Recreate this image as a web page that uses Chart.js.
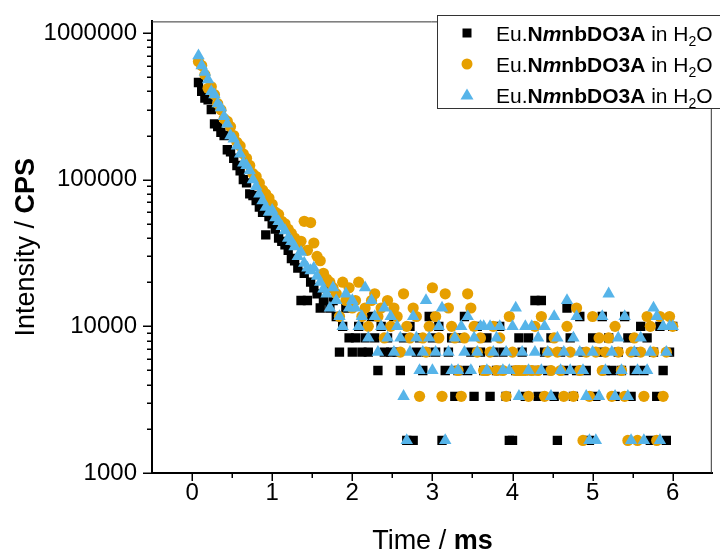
<!DOCTYPE html>
<html>
<head>
<meta charset="utf-8">
<script src="https://cdn.jsdelivr.net/npm/chart.js@4.4.0/dist/chart.umd.min.js"></script>
<style>
  html, body { margin: 0; padding: 0; background: #fff; }
  #wrap { width: 720px; height: 554px; }
</style>
</head>
<body>
<div id="wrap"><canvas id="chart" width="720" height="554"></canvas></div>
<script>
const FONT = "'Liberation Sans', Arial, Helvetica, sans-serif";

// time in ms
const times = [
  0.08, 0.12, 0.16, 0.20, 0.24, 0.28, 0.32, 0.36, 0.40, 0.44,
  0.48, 0.52, 0.56, 0.60, 0.64, 0.68, 0.72, 0.76, 0.80, 0.84,
  0.88, 0.92, 0.96, 1.00, 1.04, 1.08, 1.12, 1.16, 1.20, 1.24,
  1.28, 1.32, 1.36, 1.40, 1.44, 1.48, 1.52, 1.56, 1.60, 1.64,
  1.68, 1.72, 1.76, 1.80, 1.84, 1.88, 1.92, 1.96, 2.00, 2.04,
  2.08, 2.12, 2.16, 2.20, 2.24, 2.28, 2.32, 2.36, 2.40, 2.44,
  2.48, 2.52, 2.56, 2.60, 2.64, 2.68, 2.72, 2.76, 2.80, 2.84,
  2.88, 2.92, 2.96, 3.00, 3.04, 3.08, 3.12, 3.16, 3.20, 3.24,
  3.28, 3.32, 3.36, 3.40, 3.44, 3.48, 3.52, 3.56, 3.60, 3.64,
  3.68, 3.72, 3.76, 3.80, 3.84, 3.88, 3.92, 3.96, 4.00, 4.04,
  4.08, 4.12, 4.16, 4.20, 4.24, 4.28, 4.32, 4.36, 4.40, 4.44,
  4.48, 4.52, 4.56, 4.60, 4.64, 4.68, 4.72, 4.76, 4.80, 4.84,
  4.88, 4.92, 4.96, 5.00, 5.04, 5.08, 5.12, 5.16, 5.20, 5.24,
  5.28, 5.32, 5.36, 5.40, 5.44, 5.48, 5.52, 5.56, 5.60, 5.64,
  5.68, 5.72, 5.76, 5.80, 5.84, 5.88, 5.92, 5.96, 6.00
];

// intensity (CPS), black squares
const runSquares = [
  460000, 400000, 360000, 350000, 300000, 240000, 230000, 210000, 200000, 160000,
  155000, 140000, 125000, 115000, 100000, 95000, 80000, 78000, 72000, 65000,
  60000, 42000, 56000, 50000, 46000, 40000, 38000, 36000, 33000, 29000,
  28000, 25000, 15000, 23000, 15000, 20000, 18333, 16667, 13333, 15000,
  18333, 13333, 15000, 11667, 6667, 10000, 13333, 8333, 6667, 8333,
  10000, 6667, 8333, 6667, 11667, 8333, 5000, 10000, 6667, 8333,
  6667, 11667, 6667, 5000, 8333, 1667, 10000, 1667, 6667, 8333,
  5000, 6667, 11667, 8333, 6667, 10000, 1667, 5000, 6667, 8333,
  3333, 5000, 8333, 11667, 5000, 6667, 3333, 10000, 6667, 5000,
  8333, 3333, 6667, 5000, 10000, 6667, 3333, 1667, 1667, 5000,
  8333, 6667, 3333, 8333, 5000, 15000, 3333, 15000, 6667, 5000,
  8333, 3333, 1667, 6667, 5000, 13333, 8333, 3333, 5000, 11667,
  6667, 5000, 1667, 8333, 3333, 6667, 11667, 5000, 8333, 5000,
  3333, 6667, 5000, 11667, 8333, 3333, 5000, 6667, 10000, 5000,
  8333, 1667, 6667, 3333, 10000, 5000, 1667, 6667, 10000
];

// orange circles
const runCircles = [
  640000, 600000, 520000, 420000, 430000, 380000, 330000, 300000, 260000, 250000,
  230000, 200000, 180000, 170000, 150000, 140000, 125000, 110000, 105000, 95000,
  85000, 80000, 75000, 68000, 60000, 58000, 52000, 50000, 46000, 43000,
  40000, 36000, 38000, 52000, 33000, 51000, 37000, 30000, 28000, 23000,
  21000, 20000, 18333, 16667, 11667, 20000, 15000, 18333, 13333, 15000,
  20000, 11667, 13333, 10000, 15000, 16667, 11667, 13333, 8333, 15000,
  10000, 13333, 11667, 6667, 16667, 10000, 8333, 13333, 11667, 3333,
  8333, 6667, 10000, 18333, 11667, 8333, 3333, 16667, 13333, 10000,
  8333, 5000, 3333, 8333, 16667, 13333, 10000, 6667, 8333, 5000,
  5000, 6667, 10000, 5000, 8333, 5000, 3333, 11667, 6667, 5000,
  5000, 5000, 5000, 3333, 5000, 10000, 5000, 11667, 3333, 6667,
  5000, 8333, 6667, 5000, 3333, 10000, 6667, 3333, 13333, 5000,
  1667, 6667, 3333, 11667, 6667, 8333, 5000, 6667, 8333, 3333,
  10000, 6667, 5000, 3333, 1667, 6667, 8333, 1667, 6667, 3333,
  11667, 10000, 6667, 1667, 11667, 3333, 6667, 11667, 10000
];

// blue triangles
const runTriangles = [
  700000, 600000, 540000, 480000, 400000, 380000, 330000, 310000, 270000, 240000,
  200000, 190000, 170000, 150000, 130000, 125000, 115000, 100000, 90000, 80000,
  72000, 65000, 60000, 62000, 55000, 52000, 48000, 45000, 40000, 38000,
  35000, 30000, 32000, 27000, 25000, 24000, 25000, 22000, 20000, 18000,
  16667, 13333, 18333, 15000, 11667, 10000, 16667, 13333, 15000, 13333,
  10000, 11667, 18333, 8333, 15000, 11667, 6667, 10000, 13333, 8333,
  11667, 6667, 10000, 8333, 3333, 1667, 6667, 11667, 8333, 5000,
  6667, 15000, 8333, 5000, 6667, 10000, 13333, 1667, 6667, 5000,
  8333, 5000, 10000, 6667, 11667, 5000, 8333, 6667, 10000, 10000,
  5000, 10000, 6667, 8333, 10000, 5000, 6667, 5000, 10000, 13333,
  3333, 6667, 10000, 5000, 10000, 6667, 8333, 5000, 10000, 6667,
  3333, 11667, 8333, 5000, 6667, 15000, 5000, 8333, 11667, 6667,
  5000, 3333, 1667, 6667, 1667, 3333, 11667, 5000, 16667, 6667,
  3333, 8333, 5000, 11667, 3333, 1667, 6667, 5000, 8333, 1667,
  5000, 6667, 13333, 11667, 1667, 10000, 6667, 10000, 10000
];

const seriesColors = ['#000000', '#E69F00', '#56B4E9'];
const seriesShapes = ['rect', 'circle', 'triangle'];
const seriesRadius = [6.6, 5.6, 7.2];

// legend text pieces: [text, style]
const legendPieces = [['Eu.', 'n'], ['N', 'b'], ['m', 'bi'], ['nbDO3A', 'b'], [' in H', 'n'], ['2', 'sub'], ['O', 'n']];

const xMajorTicks = [0, 1, 2, 3, 4, 5, 6];
const xMinorTicks = [0.5, 1.5, 2.5, 3.5, 4.5, 5.5];
const yMajorTicks = [1000, 10000, 100000, 1000000];
const yMinorTicks = [
  2000, 3000, 4000, 5000, 6000, 7000, 8000, 9000,
  20000, 30000, 40000, 50000, 60000, 70000, 80000, 90000,
  200000, 300000, 400000, 500000, 600000, 700000, 800000, 900000
];

function toPoints(vals) {
  return times.map((t, i) => ({ x: t, y: vals[i] }));
}

function tickList(major, minor) {
  return major.concat(minor).sort((a, b) => a - b)
    .map(v => ({ value: v, major: major.includes(v) }));
}

function fontFor(style) {
  if (style === 'b') return 'bold 21px ' + FONT;
  if (style === 'bi') return 'italic bold 21px ' + FONT;
  if (style === 'sub') return '14px ' + FONT;
  return '21px ' + FONT;
}

function drawMarker(ctx, shape, color, x, y) {
  ctx.fillStyle = color;
  ctx.beginPath();
  if (shape === 'rect') {
    ctx.rect(x - 4.5, y - 4.5, 9, 9);
  } else if (shape === 'circle') {
    ctx.arc(x, y, 5.5, 0, Math.PI * 2);
  } else {
    ctx.moveTo(x, y - 6.5);
    ctx.lineTo(x + 6.5, y + 4.5);
    ctx.lineTo(x - 6.5, y + 4.5);
    ctx.closePath();
  }
  ctx.fill();
}

const decorPlugin = {
  id: 'decor',
  afterDraw(chart) {
    const { ctx, chartArea: a, scales: { x, y } } = chart;
    ctx.save();

    // frame top & right
    ctx.strokeStyle = '#333';
    ctx.lineWidth = 1;
    ctx.beginPath();
    ctx.moveTo(a.left, a.top + 0.5);
    ctx.lineTo(a.right - 1.5, a.top + 0.5);
    ctx.lineTo(a.right - 1.5, a.bottom);
    ctx.stroke();

    // ticks, outward
    ctx.strokeStyle = '#000';
    ctx.lineWidth = 1.5;
    ctx.beginPath();
    y.ticks.forEach(t => {
      const py = Math.round(y.getPixelForValue(t.value)) + 0.25;
      const len = t.major ? 9 : 5;
      ctx.moveTo(a.left - len, py);
      ctx.lineTo(a.left, py);
    });
    x.ticks.forEach(t => {
      const px = Math.round(x.getPixelForValue(t.value)) + 0.25;
      const len = t.major ? 8 : 5;
      ctx.moveTo(px, a.bottom);
      ctx.lineTo(px, a.bottom + len);
    });
    ctx.stroke();

    // legend box
    const lx = 437, ly = 15;
    ctx.fillStyle = '#fff';
    ctx.fillRect(lx, ly, 300, 93);
    ctx.strokeStyle = '#333';
    ctx.lineWidth = 1;
    ctx.strokeRect(lx + 0.5, ly + 0.5, 300, 93);
    const rowY = [33, 64, 95];
    rowY.forEach((ry, i) => {
      drawMarker(ctx, seriesShapes[i], seriesColors[i], 467, ry);
      let tx = 496;
      ctx.fillStyle = '#000';
      ctx.textBaseline = 'alphabetic';
      ctx.textAlign = 'left';
      legendPieces.forEach(([txt, st]) => {
        ctx.font = fontFor(st);
        ctx.fillText(txt, tx, st === 'sub' ? ry + 13 : ry + 8);
        tx += ctx.measureText(txt).width;
      });
    });

    // axis titles
    ctx.fillStyle = '#000';
    ctx.textBaseline = 'alphabetic';
    ctx.textAlign = 'left';
    const tNorm = '27px ' + FONT, tBold = 'bold 27px ' + FONT;
    ctx.font = tNorm;
    const w1 = ctx.measureText('Time / ').width;
    ctx.font = tBold;
    const w2 = ctx.measureText('ms').width;
    const cx = (a.left + a.right) / 2;
    ctx.font = tNorm;
    ctx.fillText('Time / ', cx - (w1 + w2) / 2, 549);
    ctx.font = tBold;
    ctx.fillText('ms', cx - (w1 + w2) / 2 + w1, 549);

    ctx.font = tNorm;
    const v1 = ctx.measureText('Intensity / ').width;
    ctx.font = tBold;
    const v2 = ctx.measureText('CPS').width;
    ctx.translate(34, (a.top + a.bottom) / 2);
    ctx.rotate(-Math.PI / 2);
    ctx.font = tNorm;
    ctx.fillText('Intensity / ', -(v1 + v2) / 2, 0);
    ctx.font = tBold;
    ctx.fillText('CPS', -(v1 + v2) / 2 + v1, 0);
    ctx.restore();
  }
};

const runs = [runSquares, runCircles, runTriangles];

new Chart(document.getElementById('chart'), {
  type: 'scatter',
  data: {
    datasets: runs.map((vals, i) => ({
      label: 'Eu.NmnbDO3A in H2O',
      data: toPoints(vals),
      pointStyle: seriesShapes[i],
      pointRadius: seriesRadius[i],
      pointHoverRadius: seriesRadius[i],
      pointBackgroundColor: seriesColors[i],
      pointBorderWidth: 0,
      borderWidth: 0,
      order: 3 - i
    }))
  },
  options: {
    responsive: false,
    animation: false,
    devicePixelRatio: 1,
    layout: { padding: { top: 15, right: 0, left: 0, bottom: 0 } },
    plugins: {
      legend: { display: false },
      tooltip: { enabled: false }
    },
    scales: {
      x: {
        type: 'linear',
        min: -0.5,
        max: 6.5,
        afterBuildTicks: s => { s.ticks = tickList(xMajorTicks, xMinorTicks); },
        afterFit: s => { s.height = 81; },
        grid: { drawOnChartArea: false, drawTicks: true, tickLength: 8, tickColor: 'rgba(0,0,0,0)' },
        border: { color: '#000', width: 2 },
        ticks: {
          autoSkip: false,
          maxRotation: 0,
          padding: -2,
          color: '#000',
          font: { family: FONT, size: 24 },
          callback: v => xMajorTicks.includes(v) ? String(v) : ''
        }
      },
      y: {
        type: 'logarithmic',
        min: 1000,
        max: 1200000,
        afterBuildTicks: s => { s.ticks = tickList(yMajorTicks, yMinorTicks); },
        afterFit: s => { s.width = 152; },
        grid: { drawOnChartArea: false, drawTicks: true, tickLength: 8, tickColor: 'rgba(0,0,0,0)' },
        border: { color: '#000', width: 2 },
        ticks: {
          autoSkip: false,
          padding: 7,
          color: '#000',
          font: { family: FONT, size: 24 },
          callback: v => yMajorTicks.includes(v) ? String(v) : ''
        }
      }
    }
  },
  plugins: [decorPlugin]
});
</script>
</body>
</html>
